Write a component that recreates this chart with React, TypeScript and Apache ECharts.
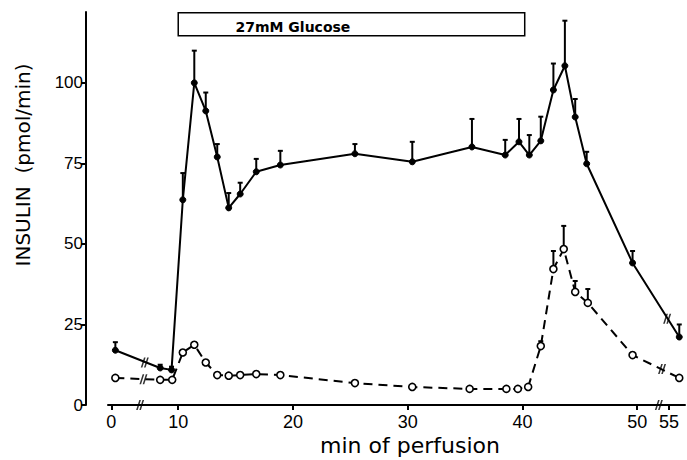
import React, { useEffect, useRef } from "react";
import * as echarts from "echarts";

// ---- data (minutes of perfusion, insulin pmol/min) ----
const X_TICKS = [0, 10, 20, 30, 40, 50, 55];
const Y_TICKS = [0, 25, 50, 75, 100];

const GLUCOSE_TIMES = [0.6, 7.3, 9.0, 10.4, 11.4, 12.4, 13.4, 14.4, 15.4, 16.8, 18.9, 25.4, 30.4, 35.6, 38.5, 39.7, 40.6, 41.6, 42.7, 43.7, 44.6, 45.6, 49.6, 56.6];
const GLUCOSE_INSULIN = [17.0, 11.5, 10.9, 63.7, 100.0, 91.3, 77.0, 61.2, 65.5, 72.4, 74.5, 78.0, 75.5, 80.1, 77.6, 81.7, 77.6, 82.0, 97.8, 105.3, 89.4, 74.9, 44.1, 21.1];
const GLUCOSE_SEM = [2.5, 1.0, 1.0, 8.3, 10.0, 5.7, 4.0, 4.6, 3.5, 4.0, 4.4, 3.0, 6.2, 8.7, 4.7, 7.1, 6.2, 7.5, 8.2, 14.0, 5.6, 3.7, 3.7, 3.9];

const CONTROL_TIMES = [0.6, 7.3, 9.1, 10.4, 11.4, 12.4, 13.4, 14.4, 15.4, 16.8, 18.9, 25.4, 30.4, 35.4, 38.6, 39.6, 40.5, 41.6, 42.7, 43.6, 44.6, 45.7, 49.6, 56.6];
const CONTROL_INSULIN = [8.4, 7.8, 7.8, 16.3, 18.7, 13.2, 9.3, 9.1, 9.3, 9.6, 9.3, 6.8, 5.6, 5.0, 5.0, 5.0, 5.6, 18.3, 42.2, 48.4, 35.1, 31.7, 15.5, 8.4];
const CONTROL_SEM = [0, 0, 0, 0, 0, 0, 0, 0, 0, 0, 0, 0, 0, 0, 0, 0, 0, 1.5, 5.6, 7.2, 3.4, 4.3, 0, 0];

const GLUCOSE_PERIOD = [10, 40.2];
const GLUCOSE_LABEL = "27mM Glucose";
const GLUCOSE_BOX_Y = [114.6, 121.8];

const AXIS_BREAKS = [4.3, 53.4];
const LINE_BREAKS = [
  [5.0, 13.2],
  [4.8, 8.0],
  [54.7, 26.8],
  [53.9, 11.2],
];

// compressed time scale before 10 min and after 50 min
const toU = (m: number) =>
  m <= 10 ? 10 - (10 - m) * 0.583 : m <= 50 ? m : 50 + (m - 50) * 0.556;

const errData = (t: number[], v: number[], s: number[]) =>
  t
    .map((x, i) => [toU(x), v[i], v[i] + s[i]])
    .filter((d, i) => s[i] > 0);

const FONT = "DejaVu Sans";
const NUM_FONT = "Liberation Sans";

export default function App() {
  const ref = useRef<HTMLDivElement>(null);

  useEffect(() => {
    document.body.style.margin = "0";
    const chart = echarts.init(ref.current!, undefined, { renderer: "svg" });

    const renderErr = (params: any, api: any) => {
      const p0 = api.coord([api.value(0), api.value(1)]);
      const p1 = api.coord([api.value(0), api.value(2)]);
      return {
        type: "group",
        children: [
          {
            type: "line",
            shape: { x1: p0[0], y1: p0[1], x2: p1[0], y2: p1[1] },
            style: { stroke: "#000", lineWidth: 2 },
          },
          {
            type: "line",
            shape: { x1: p1[0] - 2.5, y1: p1[1], x2: p1[0] + 2.5, y2: p1[1] },
            style: { stroke: "#000", lineWidth: 2 },
          },
        ],
      };
    };

    const xTickU = X_TICKS.map(toU);

    chart.setOption({
      animation: false,
      backgroundColor: "#fff",
      grid: { left: 108, right: 2, top: 12, bottom: 55 },
      xAxis: {
        type: "value",
        min: toU(-0.5),
        max: toU(57.5),
        axisLine: { show: true, lineStyle: { color: "#000", width: 2 } },
        axisTick: { show: true, customValues: xTickU, length: 5, lineStyle: { color: "#000", width: 2 } },
        axisLabel: {
          customValues: xTickU,
          margin: 8,
          color: "#000",
          fontSize: 18,
          fontFamily: NUM_FONT,
          formatter: (v: number) => {
            const i = xTickU.findIndex((u) => Math.abs(u - v) < 1e-6);
            return i >= 0 ? String(X_TICKS[i]) : "";
          },
        },
        splitLine: { show: false },
      },
      yAxis: {
        type: "value",
        min: 0,
        max: 122,
        offset: 22,
        axisLine: { show: true, lineStyle: { color: "#000", width: 2 } },
        axisTick: { show: true, customValues: Y_TICKS, length: 5, lineStyle: { color: "#000", width: 2 } },
        axisLabel: {
          customValues: Y_TICKS,
          margin: 3,
          color: "#000",
          fontSize: 17,
          fontFamily: NUM_FONT,
        },
        splitLine: { show: false },
      },
      graphic: [
        {
          type: "text",
          x: 23,
          y: 165,
          rotation: Math.PI / 2,
          style: {
            text: "INSULIN  (pmol/min)",
            fontFamily: FONT,
            fontSize: 20,
            fill: "#000",
            align: "center",
            verticalAlign: "middle",
          },
        },
        {
          type: "text",
          x: 410,
          y: 445,
          style: {
            text: "min of perfusion",
            fontFamily: FONT,
            fontSize: 22,
            fill: "#000",
            align: "center",
            verticalAlign: "middle",
          },
        },
      ],
      series: [
        {
          name: "glucose-sem",
          type: "custom",
          renderItem: renderErr,
          encode: { x: 0, y: [1, 2] },
          data: errData(GLUCOSE_TIMES, GLUCOSE_INSULIN, GLUCOSE_SEM),
          z: 2,
          silent: true,
        },
        {
          name: "control-sem",
          type: "custom",
          renderItem: renderErr,
          encode: { x: 0, y: [1, 2] },
          data: errData(CONTROL_TIMES, CONTROL_INSULIN, CONTROL_SEM),
          z: 2,
          silent: true,
        },
        {
          name: "27 mM glucose",
          type: "line",
          data: GLUCOSE_TIMES.map((t, i) => [toU(t), GLUCOSE_INSULIN[i]]),
          symbol: "circle",
          symbolSize: 6,
          itemStyle: { color: "#000", borderColor: "#000", borderWidth: 1 },
          lineStyle: { color: "#000", width: 2 },
          z: 3,
          markArea: {
            silent: true,
            itemStyle: { color: "#fff", borderColor: "#000", borderWidth: 1.5 },
            label: {
              show: true,
              position: [58, 15],
              align: "left",
              verticalAlign: "middle",
              color: "#000",
              fontFamily: FONT,
              fontWeight: "bold",
              fontSize: 14,
            },
            data: [
              [
                { name: GLUCOSE_LABEL, xAxis: toU(GLUCOSE_PERIOD[0]), yAxis: GLUCOSE_BOX_Y[0] },
                { xAxis: toU(GLUCOSE_PERIOD[1]), yAxis: GLUCOSE_BOX_Y[1] },
              ],
            ],
          },
        },
        {
          name: "control",
          type: "line",
          data: CONTROL_TIMES.map((t, i) => [toU(t), CONTROL_INSULIN[i]]),
          symbol: "circle",
          symbolSize: 7,
          itemStyle: { color: "#fff", borderColor: "#000", borderWidth: 1.6 },
          lineStyle: { color: "#000", width: 2, type: [9, 6] },
          z: 3,
        },
        {
          name: "breaks",
          type: "scatter",
          silent: true,
          symbol: "path://M0,10 L2,10 L6,0 L4,0 Z M4,10 L6,10 L10,0 L8,0 Z",
          symbolSize: [8, 10],
          itemStyle: { color: "#000" },
          data: [
            ...AXIS_BREAKS.map((t) => [toU(t), 0]),
            ...LINE_BREAKS.map((d) => [toU(d[0]), d[1]]),
          ],
          z: 4,
        },
      ],
    });

    return () => chart.dispose();
  }, []);

  return (
    <div
      ref={ref}
      style={{ position: "fixed", left: 0, top: 0, width: 687, height: 460, background: "#fff" }}
    />
  );
}
